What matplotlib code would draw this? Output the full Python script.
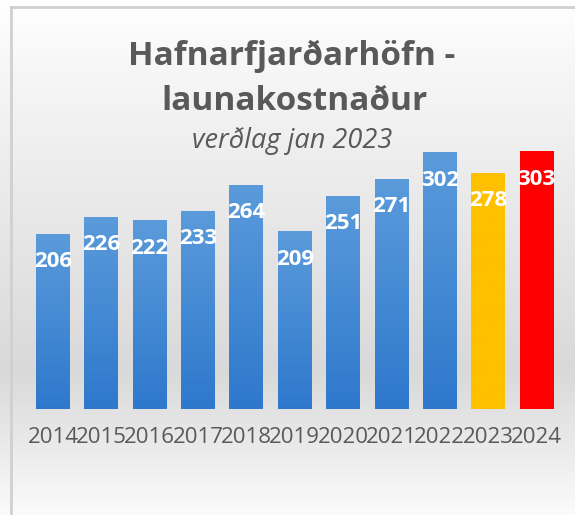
import numpy as np
import matplotlib
matplotlib.use("Agg")
import matplotlib.pyplot as plt
from matplotlib.colors import LinearSegmentedColormap
from matplotlib.lines import Line2D

# Launakostnaður Hafnarfjarðarhafnar, verðlag jan 2023
years = ["2014", "2015", "2016", "2017", "2018", "2019", "2020", "2021", "2022", "2023", "2024"]
values = [206, 226, 222, 233, 264, 209, 251, 271, 302, 278, 303]
bar_kind = ["blue"] * 9 + ["yellow", "red"]

plt.rcParams['font.family'] = ['Open Sans', 'DejaVu Sans']

W, H = 575, 515
fig = plt.figure(figsize=(W / 100, H / 100), dpi=100)

# background gradient (white -> light gray -> white)
bg = fig.add_axes([0, 0, 1, 1], zorder=-10)
bg.axis("off")
bg_cmap = LinearSegmentedColormap.from_list(
    "bg", [(0, "#ffffff"), (0.12, "#f7f7f7"), (0.72, "#d9d9d9"), (0.85, "#e8e8e8"), (1.0, "#fbfbfb")])
grad = np.linspace(0, 1, 256).reshape(-1, 1)
bg.imshow(grad, aspect="auto", cmap=bg_cmap, extent=[0, 1, 0, 1], origin="upper")
bg.set_xlim(0, 1)
bg.set_ylim(0, 1)

# frame lines (left and top)
fig.add_artist(Line2D([11 / W, 11 / W], [0, 1 - 7 / H], color="#d0d0d0", lw=2))
fig.add_artist(Line2D([11 / W, 1], [1 - 7 / H, 1 - 7 / H], color="#d0d0d0", lw=2))

# plot area
ymax = 350
px_per_unit = 0.85
ax_left, ax_right = 28.8, 560.7
ax_bottom = 409
ax_h = ymax * px_per_unit
ax = fig.add_axes([ax_left / W, (H - ax_bottom) / H, (ax_right - ax_left) / W, ax_h / H])
ax.patch.set_alpha(0)
for s in ax.spines.values():
    s.set_visible(False)

x = np.arange(len(years))
bars = ax.bar(x, values, width=0.70, color="none", edgecolor="none")

grads = {
    "blue": LinearSegmentedColormap.from_list("b", ["#2e78cc", "#5b9bdb"]),
    "yellow": LinearSegmentedColormap.from_list("y", ["#ffc000", "#ffc000"]),
    "red": LinearSegmentedColormap.from_list("r", ["#ff0000", "#ff0000"]),
}
for b, kind in zip(bars, bar_kind):
    x0, w, h = b.get_x(), b.get_width(), b.get_height()
    im = ax.imshow(grad, aspect="auto", cmap=grads[kind],
                   extent=[x0, x0 + w, 0, h], origin="lower", zorder=2)
    im.set_clip_path(b)

ax.set_xlim(-0.5, len(years) - 0.5)
ax.set_ylim(0, ymax)

for xi, v in zip(x, values):
    ax.annotate(str(v), (xi, v), xytext=(0, -28 * 0.72), textcoords="offset points",
                ha="center", va="center", color="white", fontsize=16, fontweight="bold", zorder=5)

ax.set_yticks([])
ax.set_xticks(x)
ax.set_xticklabels(years, fontsize=16, color="#595959")
ax.tick_params(axis="x", length=0, pad=13)

# titles
fig.text(292 / W, 1 - 65 / H, "Hafnarfjarðarhöfn -", ha="center", va="baseline",
         fontsize=24, fontweight="bold", color="#595959")
fig.text(294 / W, 1 - 110 / H, "launakostnaður", ha="center", va="baseline",
         fontsize=24, fontweight="bold", color="#595959")
fig.text(292 / W, 1 - 148 / H, "verðlag jan 2023", ha="center", va="baseline",
         fontsize=19.5, style="italic", color="#595959")

fig.savefig("out.png", dpi=100)
